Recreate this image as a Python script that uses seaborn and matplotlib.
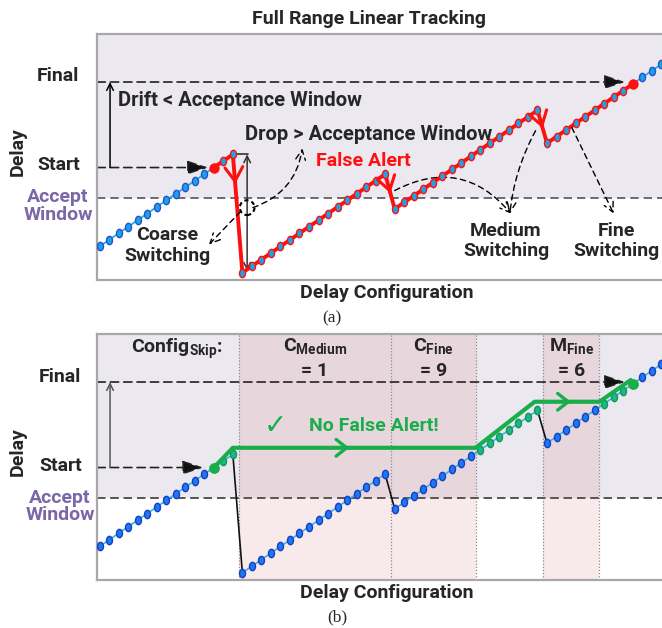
import matplotlib
matplotlib.use("Agg")
import numpy as np
import pandas as pd
import matplotlib.pyplot as plt
import seaborn as sns
from matplotlib.path import Path
from matplotlib.patches import Ellipse
from matplotlib import font_manager as fm

# ---- sweep data: delay measured at each configuration, four runs between switches
config_run1 = [0, 1, 2, 3, 4, 5, 6, 7, 8, 9, 10, 11, 12, 13, 14]
delay_run1 = [0, 1, 2, 3, 4, 5, 6, 7, 8, 9, 10, 11, 12, 13, 14]
config_run2 = [15, 16, 17, 18, 19, 20, 21, 22, 23, 24, 25, 26, 27, 28, 29, 30]
delay_run2 = [-4, -3, -2, -1, 0, 1, 2, 3, 4, 5, 6, 7, 8, 9, 10, 11]
config_run3 = [31, 32, 33, 34, 35, 36, 37, 38, 39, 40, 41, 42, 43, 44, 45, 46]
delay_run3 = [5.7, 6.7, 7.7, 8.7, 9.7, 10.7, 11.7, 12.7, 13.7, 14.7, 15.7,
              16.7, 17.7, 18.7, 19.7, 20.7]
config_run4 = [47, 48, 49, 50, 51, 52, 53, 54, 55, 56, 57, 58, 59, 60, 61]
delay_run4 = [15.7, 16.7, 17.7, 18.7, 19.7, 20.7, 21.7, 22.7, 23.7, 24.7,
              25.7, 26.7, 27.7, 28.7, 29.7]

start_config, final_config = 12, 56
start_delay, final_delay, accept_delay = 12, 25, 7.4

# configuration skips (b)
skip_bands = [(14.6, 30.6), (30.6, 39.5), (46.6, 52.5)]
skip_main = ["C", "C", "M"]
skip_sub = ["Medium", "Fine", "Fine"]
skip_values = [1, 9, 6]
skip_path_config = [12, 14, 39.5, 45.7, 52.5, 55.8]
skip_path_delay = [12, 15, 15, 22, 22, 25.3]
skipped_configs = [12, 13, 14, 40, 41, 42, 43, 44, 45, 46, 53, 54, 55, 56]

runs = [(config_run1, delay_run1), (config_run2, delay_run2),
        (config_run3, delay_run3), (config_run4, delay_run4)]
df = pd.concat([pd.DataFrame({"config": c, "delay": d, "run": k})
                for k, (c, d) in enumerate(runs)], ignore_index=True)

# ---- style
sns.set_theme(style="white")
names = {f.name for f in fm.fontManager.ttflist}
FONT = "Roboto" if "Roboto" in names else "Liberation Sans"
plt.rcParams["font.family"] = [FONT, "DejaVu Sans"]
plt.rcParams["mathtext.fontset"] = "custom"
plt.rcParams["mathtext.rm"] = FONT
plt.rcParams["mathtext.bf"] = FONT + ":bold"

FS = 14
LAV = "#ECE8F0"
PINK_HI = "#E7D7DD"
PINK_LO = "#F8EAEA"
PURPLE = "#7A66A8"
GREEN = "#19AD4C"
RED = "#FF1010"
DASH = (0, (5, 3))

circ = Path.unit_circle()
oval = Path(circ.vertices * np.array([0.72, 1.0]), circ.codes)

W, H = 662, 628
fig = plt.figure(figsize=(W / 100, H / 100), dpi=100)
XLIM = (-0.27, 62.0)
YLIM = (-5.1, 32.3)
ax_w = (XLIM[1] - XLIM[0]) * 9.52 / W


def make_axes(top_px):
    ax = fig.add_axes([97 / W, 1 - (top_px + 246) / H, ax_w, 246 / H])
    ax.set_xlim(*XLIM)
    ax.set_ylim(*YLIM)
    ax.set_xticks([])
    ax.set_yticks([])
    ax.set_xlabel("")
    for s in ["top", "left", "bottom", "right"]:
        ax.spines[s].set_color("#A8A8A8")
        ax.spines[s].set_linewidth(1.6)
    ax.axhspan(accept_delay, YLIM[1], color=LAV, zorder=0, lw=0)
    ax.axhline(accept_delay, ls=DASH, color="#555555", lw=1.2, zorder=1)
    return ax


def ftext(x, y, s, **kw):
    kw.setdefault("ha", "center")
    kw.setdefault("va", "center")
    kw.setdefault("fontsize", FS)
    kw.setdefault("fontweight", "bold")
    return fig.text(x / W, 1 - y / H, s, **kw)


def chevron(ax, p0, p1, frac, color, hl, hw, lw=2.2):
    p0, p1 = np.array(p0, float), np.array(p1, float)
    tip = p0 + frac * (p1 - p0)
    tail = p0 + (frac - 0.03) * (p1 - p0)
    ax.annotate("", xy=tip, xytext=tail,
                arrowprops=dict(arrowstyle=f"->,head_length={hl},head_width={hw}",
                                color=color, lw=lw, shrinkA=0, shrinkB=0,
                                mutation_scale=20), zorder=6)


def level_arrows(ax, tip_start, col):
    # start / final dashed levels and the drift arrow between them
    ax.annotate("", xy=(tip_start, start_delay), xytext=(XLIM[0], start_delay),
                arrowprops=dict(arrowstyle="-|>,head_length=0.9,head_width=0.3",
                                ls=DASH, color="#222222", fc="#111111", lw=1.2,
                                shrinkA=0, shrinkB=0, mutation_scale=14), zorder=2)
    ax.annotate("", xy=(55.2, final_delay), xytext=(XLIM[0], final_delay),
                arrowprops=dict(arrowstyle="-|>,head_length=0.9,head_width=0.3",
                                ls=DASH, color="#222222", fc="#111111", lw=1.2,
                                shrinkA=0, shrinkB=0, mutation_scale=14), zorder=2)
    ax.annotate("", xy=(1.1, final_delay), xytext=(1.1, start_delay),
                arrowprops=dict(arrowstyle="->", color=col, lw=1.1,
                                shrinkA=0, shrinkB=0), zorder=2)


run_ends = [(c[-1], d[-1]) for c, d in runs]
run_starts = [(c[0], d[0]) for c, d in runs]
drops = [(run_ends[k], run_starts[k + 1]) for k in range(3)]

# ================= (a) full range linear tracking =================
ax = make_axes(34)
sns.lineplot(data=df, x="config", y="delay", units="run", estimator=None,
             color="#29ABE2", lw=1.3, ax=ax, legend=False, zorder=2)
track = df[(df.config >= start_config) & (df.config <= final_config)]
sns.lineplot(data=track, x="config", y="delay", estimator=None, sort=False,
             color=RED, lw=2.8, ax=ax, legend=False, zorder=3)
rest = df[(df.config < start_config) | (df.config > final_config)]
sns.scatterplot(data=rest, x="config", y="delay", marker=oval, s=36,
                color="#1BA3E6", edgecolor="#2452D0", linewidth=1.0, ax=ax,
                legend=False, zorder=4)
sns.scatterplot(data=track, x="config", y="delay", marker=oval, s=36,
                color="#1BA3E6", edgecolor=RED, linewidth=1.0, ax=ax,
                legend=False, zorder=4)
ends = df[df.config.isin([start_config, final_config])]
sns.scatterplot(data=ends, x="config", y="delay", marker="o", s=55,
                color=RED, edgecolor=RED, linewidth=0, ax=ax, legend=False, zorder=5)
for (p0, p1), f in zip(drops, [0.25, 0.55, 0.55]):
    chevron(ax, p0, p1, f, RED, 0.5, 0.32)
level_arrows(ax, 11.4, "black")

# coarse drop span
ax.plot([run_ends[0][0], 15.6], [run_ends[0][1]] * 2, color="#333333", lw=1.2, zorder=2)
ax.annotate("", xy=(15.5, run_ends[0][1]), xytext=(15.5, run_starts[1][1] + 0.3),
            arrowprops=dict(arrowstyle="<->", color="#333333", lw=1.1,
                            shrinkA=0, shrinkB=0), zorder=2)
ax.add_patch(Ellipse((15.5, 5.9), 1.55, 2.25, fill=False, ec="black",
                     ls=(0, (2, 1.5)), lw=1.5, zorder=6))

dash_arrow = dict(arrowstyle="->,head_length=0.5,head_width=0.25", ls=(0, (4, 3)),
                  color="black", lw=1.0, shrinkA=0, shrinkB=0, mutation_scale=14)
ax.annotate("", xy=(21.3, 14.9), xytext=(16.1, 5.9),
            arrowprops=dict(connectionstyle="arc3,rad=0.3", **dash_arrow))
ax.annotate("", xy=(11.5, 0.3), xytext=(14.8, 5.3), arrowprops=dict(**dash_arrow))
ax.annotate("", xy=(43.2, 5.0), xytext=(31.0, 8.5),
            arrowprops=dict(connectionstyle="arc3,rad=-0.4", **dash_arrow))
ax.annotate("", xy=(43.1, 5.0), xytext=(45.8, 17.6),
            arrowprops=dict(connectionstyle="arc3,rad=0.1", **dash_arrow))
ax.annotate("", xy=(54.0, 5.0), xytext=(49.6, 18.1), arrowprops=dict(**dash_arrow))

ftext(369, 19, "Full Range Linear Tracking", fontsize=FS)
ftext(58, 76, "Final")
ftext(59, 165, "Start")
ftext(58, 206, "Accept\nWindow", color=PURPLE, linespacing=0.95)
ftext(18, 152, "Delay", rotation=90)
ftext(118, 100, "Drift < Acceptance Window", ha="left", fontsize=FS + 0.5)
ftext(245, 134, "Drop > Acceptance Window", ha="left", fontsize=FS + 0.5)
ftext(363, 161, "False Alert", color=RED)
ftext(167, 245.5, "Coarse\nSwitching")
ftext(506, 241, "Medium\nSwitching")
ftext(616, 241, "Fine\nSwitching")
ftext(387, 293, "Delay Configuration")
ftext(332, 318, "(a)", family="Liberation Serif", fontweight="normal", fontsize=12.5)

# ================= (b) configuration skipping =================
bx = make_axes(334)
for (x0, x1) in skip_bands:
    bx.fill_between([x0, x1], accept_delay, YLIM[1], color=PINK_HI, lw=0, zorder=0.5)
    bx.fill_between([x0, x1], YLIM[0], accept_delay, color=PINK_LO, lw=0, zorder=0.5)
for xv in sorted({v for b in skip_bands for v in b}):
    bx.axvline(xv, color="#8A8A8A", ls=(0, (1, 1.5)), lw=0.9, zorder=1)
bx.axhline(accept_delay, ls=DASH, color="#555555", lw=1.2, zorder=1)

sns.lineplot(data=df, x="config", y="delay", units="run", estimator=None,
             color="#3BB0F0", lw=1.2, ax=bx, legend=False, zorder=2)
for p0, p1 in drops:
    bx.plot([p0[0], p1[0]], [p0[1], p1[1]], color="#111111", lw=1.2, zorder=2)
skipped = df[df.config.isin(skipped_configs)]
visited = df[~df.config.isin(skipped_configs)]
sns.scatterplot(data=visited, x="config", y="delay", marker=oval, s=36,
                color="#1E78F2", edgecolor="#1440C0", linewidth=1.0, ax=bx,
                legend=False, zorder=4)
sns.scatterplot(data=skipped, x="config", y="delay", marker=oval, s=36,
                color="#20B48C", edgecolor="#0E9A50", linewidth=1.0, ax=bx,
                legend=False, zorder=4)
sns.lineplot(x=skip_path_config, y=skip_path_delay, estimator=None, sort=False,
             color=GREEN, lw=3.0, ax=bx, legend=False, zorder=5)
sns.scatterplot(data=ends, x="config", y="delay", marker="o", s=60,
                color=GREEN, edgecolor=GREEN, linewidth=0, ax=bx, legend=False, zorder=6)
chevron(bx, (skip_path_config[1], skip_path_delay[1]),
        (skip_path_config[2], skip_path_delay[2]), 0.48, GREEN, 0.38, 0.3, lw=2.4)
chevron(bx, (skip_path_config[3], skip_path_delay[3]),
        (skip_path_config[4], skip_path_delay[4]), 0.56, GREEN, 0.38, 0.3, lw=2.4)
level_arrows(bx, 10.9, "#555555")

ftext(131, 349, r"Config$_{\mathbf{Skip}}$:", ha="left")
for (x0, x1), m, sub, v in zip(skip_bands, skip_main, skip_sub, skip_values):
    cx = 97 + (x0 + x1) / 2 * 9.52 + 0.27 * 9.52
    ftext(cx, 347, m + r"$_{\mathbf{" + sub + r"}}$")
    ftext(cx, 371, f"= {v}")
ftext(275.5, 426, "\u2713", color=GREEN, family="DejaVu Sans", fontweight="normal",
      fontsize=20)
ftext(374, 426, "No False Alert!", color=GREEN)
ftext(60, 377, "Final")
ftext(61, 466, "Start")
ftext(60, 506.7, "Accept\nWindow", color=PURPLE, linespacing=0.95)
ftext(18, 452, "Delay", rotation=90)
ftext(387, 593, "Delay Configuration")
ftext(337, 617, "(b)", family="Liberation Serif", fontweight="normal", fontsize=12.5)

fig.savefig("out.png", dpi=100)
